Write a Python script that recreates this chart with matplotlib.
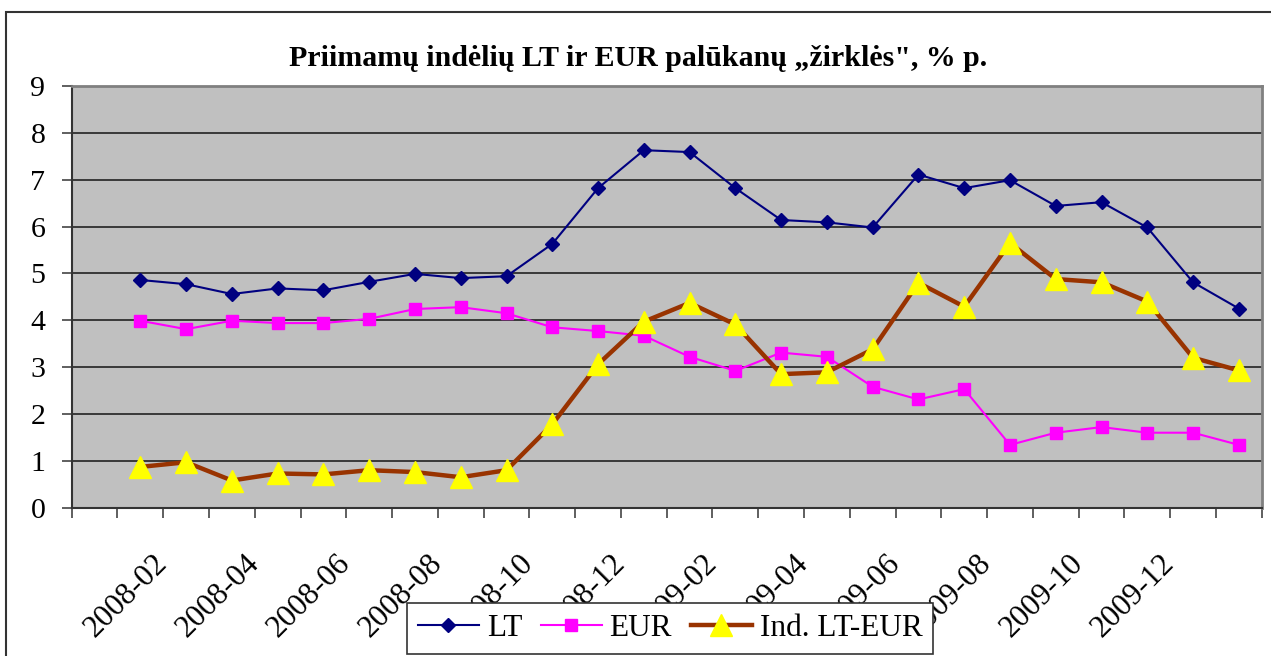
# Priimamų indėlių LT ir EUR palūkanų "žirklės"

import numpy as np
import matplotlib.pyplot as plt
from matplotlib.patches import Rectangle

# Duomenys: 2008-01 ... 2010-01
months = ['2008-01', '2008-02', '2008-03', '2008-04', '2008-05', '2008-06', '2008-07',
          '2008-08', '2008-09', '2008-10', '2008-11', '2008-12', '2009-01', '2009-02',
          '2009-03', '2009-04', '2009-05', '2009-06', '2009-07', '2009-08', '2009-09',
          '2009-10', '2009-11', '2009-12', '2010-01']
lt = [4.86, 4.77, 4.56, 4.68, 4.64, 4.82, 4.99, 4.90, 4.94, 5.63, 6.82, 7.63, 7.59,
      6.82, 6.14, 6.09, 5.98, 7.11, 6.82, 6.99, 6.44, 6.52, 5.98, 4.81, 4.25]
eur = [3.99, 3.81, 3.99, 3.94, 3.94, 4.03, 4.24, 4.28, 4.15, 3.85, 3.77, 3.67, 3.22,
       2.92, 3.31, 3.22, 2.58, 2.31, 2.53, 1.34, 1.60, 1.72, 1.60, 1.60, 1.34]
ind = [0.87, 0.97, 0.58, 0.73, 0.71, 0.80, 0.76, 0.65, 0.80, 1.78, 3.06, 3.97, 4.37,
       3.91, 2.85, 2.89, 3.38, 4.80, 4.29, 5.65, 4.88, 4.81, 4.40, 3.20, 2.93]
label_months = months[1:24:2]

x = np.arange(len(months))

plt.rcParams['font.family'] = ['Liberation Serif', 'DejaVu Serif']

fig = plt.figure(figsize=(12.71, 6.56), dpi=100)
ax = fig.add_axes([0.0564, 0.2261, 0.9363, 0.6428])

# rėmelis aplink visą diagramą
fig.patches.append(Rectangle((6 / 1271, -0.1), 1.2, 1 - 12 / 656 + 0.1,
                             transform=fig.transFigure, fill=False,
                             edgecolor='#333333', linewidth=1.5, zorder=0))

ax.set_facecolor('#C0C0C0')
ax.plot(x, lt, color='#000080', marker='D', markersize=7, linewidth=1.5, label='LT', zorder=3)
ax.plot(x, eur, color='#FF00FF', marker='s', markersize=8, linewidth=1.5, label='EUR', zorder=3)
ax.plot(x, ind, color='#993300', marker='^', markersize=16, markerfacecolor='#FFFF00',
        markeredgecolor='#FFFF00', linewidth=3.2, label='Ind. LT-EUR', zorder=4)

ax.set_xlim(-1.5, len(months) - 0.5)
ax.set_ylim(0, 9)
ax.set_yticks(range(0, 10))
ax.yaxis.grid(True, color='#222222', linewidth=1.2)
ax.set_axisbelow(True)

# kategorijų ribos - didžiosios žymos, mėnesių pavadinimai - mažosiose
ax.xaxis.remove_overlapping_locs = False
ax.set_xticks(np.arange(-1.5, len(months), 1))
ax.set_xticklabels([])
ax.set_xticks(x[1:24:2] - 0.5, label_months, minor=True)
ax.tick_params(axis='x', which='major', length=7, width=1.2, color='#444444', direction='out')
ax.tick_params(axis='x', which='minor', length=0, pad=37, labelsize=22.5)
ax.tick_params(axis='y', length=7, width=1.2, color='#444444', pad=12, labelsize=21.5)
for lab in ax.get_xticklabels(minor=True):
    lab.set_rotation(45)
    lab.set_rotation_mode('anchor')
    lab.set_ha('right')
    lab.set_va('center')

for s in ['left', 'bottom']:
    ax.spines[s].set_color('#333333')
    ax.spines[s].set_linewidth(1.5)
for s in ['top', 'right']:
    ax.spines[s].set_color('#808080')
    ax.spines[s].set_linewidth(2)

fig.text(0.502, 0.911, 'Priimamų indėlių LT ir EUR palūkanų „žirklės", % p.',
         ha='center', va='center', fontsize=21.5, fontweight='bold')

leg = fig.legend(loc='upper left', bbox_to_anchor=(407 / 1271, 1 - 603 / 656), ncol=3,
                 frameon=True, fancybox=False, shadow=False, fontsize=22.5,
                 borderaxespad=0, borderpad=0.35, handlelength=1.95, columnspacing=0.6,
                 handletextpad=0.25)
leg.get_frame().set_edgecolor('#333333')
leg.get_frame().set_linewidth(1.2)
leg.get_frame().set_alpha(1)
leg.set_zorder(10)

fig.savefig('out.png', dpi=100)
